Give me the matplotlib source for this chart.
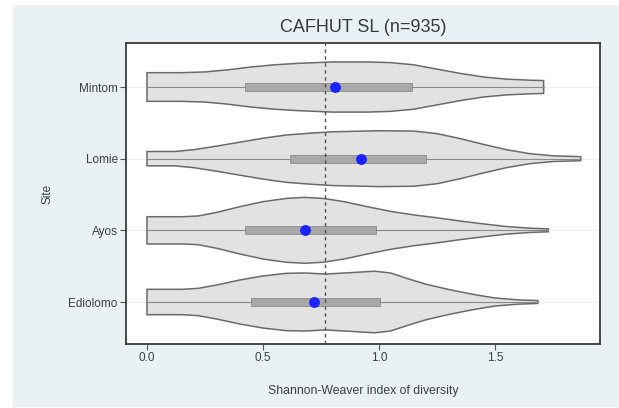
import matplotlib
matplotlib.use("Agg")
import matplotlib.pyplot as plt
from matplotlib.patches import Rectangle

plt.rcParams['font.family'] = ['Liberation Sans', 'DejaVu Sans']

# data
sites = ["Ediolomo", "Ayos", "Lomie", "Mintom"]
ref_line = 0.767

# violin outlines: x positions and half-widths (category units)
mintom_x = [0.00, 0.15, 0.25, 0.35, 0.45, 0.55, 0.65, 0.80, 0.95, 1.05, 1.15, 1.25, 1.35, 1.45, 1.55, 1.65, 1.71]
mintom_w = [0.20, 0.20, 0.21, 0.24, 0.28, 0.31, 0.33, 0.35, 0.35, 0.34, 0.31, 0.25, 0.19, 0.14, 0.11, 0.095, 0.09]
lomie_x = [0.00, 0.12, 0.20, 0.30, 0.40, 0.50, 0.60, 0.70, 0.80, 1.00, 1.15, 1.25, 1.35, 1.45, 1.55, 1.65, 1.75, 1.87]
lomie_w = [0.10, 0.10, 0.125, 0.175, 0.23, 0.285, 0.33, 0.355, 0.375, 0.39, 0.385, 0.35, 0.28, 0.20, 0.125, 0.07, 0.04, 0.028]
ayos_x = [0.00, 0.15, 0.22, 0.30, 0.40, 0.50, 0.60, 0.68, 0.76, 0.85, 0.95, 1.05, 1.15, 1.25, 1.35, 1.45, 1.55, 1.65, 1.73]
ayos_w = [0.19, 0.19, 0.20, 0.25, 0.33, 0.40, 0.445, 0.46, 0.445, 0.40, 0.33, 0.265, 0.215, 0.175, 0.13, 0.09, 0.053, 0.03, 0.02]
edio_x = [0.00, 0.15, 0.22, 0.30, 0.40, 0.50, 0.60, 0.68, 0.77, 0.88, 0.98, 1.05, 1.12, 1.20, 1.30, 1.40, 1.50, 1.60, 1.685]
edio_w = [0.177, 0.177, 0.19, 0.237, 0.307, 0.363, 0.40, 0.405, 0.39, 0.41, 0.43, 0.405, 0.33, 0.25, 0.175, 0.11, 0.056, 0.03, 0.02]

# quartiles and medians (Ediolomo, Ayos, Lomie, Mintom)
q1 = [0.447, 0.422, 0.615, 0.422]
q3 = [1.006, 0.987, 1.205, 1.142]
medians = [0.719, 0.683, 0.924, 0.811]

outlines = [(edio_x, edio_w), (ayos_x, ayos_w), (lomie_x, lomie_w), (mintom_x, mintom_w)]

fig = plt.figure(figsize=(6.19, 4.08), dpi=100)
fig.patch.set_facecolor("white")
fig.patches.append(Rectangle((13 / 619, 1 / 408), 1 - 13 / 619, 402 / 408,
                             transform=fig.transFigure, facecolor="#e9f1f4",
                             edgecolor="none", zorder=-10))

ax = fig.add_axes([126 / 619, 64 / 408, 474 / 619, 301 / 408])
ax.set_facecolor("white")

for i, (xs, ws) in enumerate(outlines):
    pos = i + 1
    ax.axhline(pos, color="#efefef", lw=0.8, zorder=0)
    top = [pos + w for w in ws]
    bot = [pos - w for w in ws]
    ax.fill(list(xs) + list(xs[::-1]), top + bot[::-1],
            facecolor="#e2e2e2", edgecolor="#6a6a6a", lw=1.1, zorder=2)
    ax.plot([xs[0], xs[-1]], [pos, pos], color="#8a8a8a", lw=0.8, zorder=3)
    ax.add_patch(Rectangle((q1[i], pos - 0.055), q3[i] - q1[i], 0.11,
                           facecolor="#a8a8a8", edgecolor="#8c8c8c", lw=0.6, zorder=4))
    ax.plot(medians[i], pos, "o", color="#1a22ff", markersize=6.8, zorder=6)

ax.axvline(ref_line, color="#505050", lw=1.0, ls=(0, (2.5, 2.5)), zorder=5)

ax.set_xlim(-0.0905, 1.953)
ax.set_ylim(0.414, 4.614)
ax.set_xticks([0.0, 0.5, 1.0, 1.5])
ax.set_xticklabels(["0.0", "0.5", "1.0", "1.5"])
ax.set_yticks([1, 2, 3, 4])
ax.set_yticklabels(sites)

for s in ax.spines.values():
    s.set_color("#3a3a3a")
    s.set_linewidth(1.3)
ax.tick_params(axis="both", length=4, width=0.8, color="#555555",
               labelsize=8.5, labelcolor="#404040", pad=2)

ax.set_title("CAFHUT SL (n=935)", fontsize=13, color="#3a3a3a", pad=8)
ax.set_xlabel("Shannon-Weaver index of diversity", fontsize=8.8, color="#404040", labelpad=15)
ax.set_ylabel("Site", fontsize=8.5, color="#404040", labelpad=11)

fig.savefig("out.png", dpi=100)
